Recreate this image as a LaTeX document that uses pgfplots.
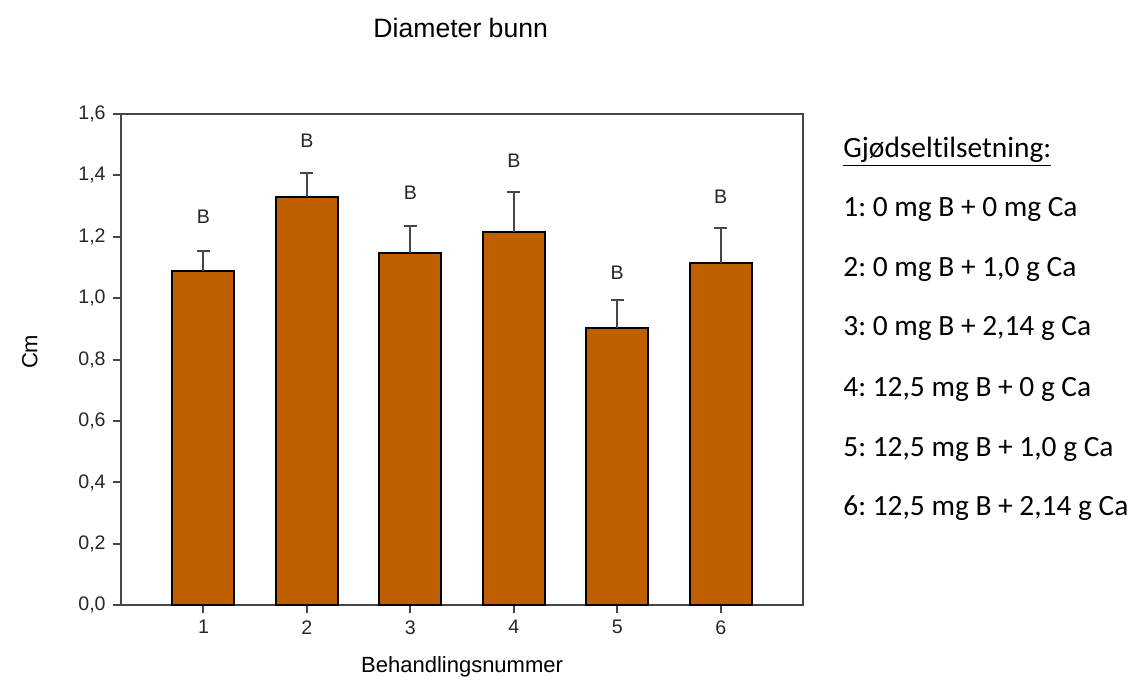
\documentclass[border=0pt]{standalone}
\usepackage{fontspec}
\setmainfont{Liberation Sans}
\newfontfamily\calibri[Ligatures=NoCommon]{Carlito}
\usepackage{pgfplots}
\pgfplotsset{compat=1.18}
\definecolor{barfill}{RGB}{191,95,0}
\definecolor{axisgray}{RGB}{70,70,70}
\frenchspacing
\begin{document}
\begin{tikzpicture}
\useasboundingbox (0,0) rectangle (565.5pt,343.5pt);
\begin{axis}[
  at={(60.35pt,40.85pt)}, anchor=south west,
  scale only axis, width=341.4pt, height=245.65pt,
  xmin=0.2, xmax=6.8, ymin=0, ymax=1.6,
  xtick={1,2,3,4,5,6},
  ytick={0,0.2,0.4,0.6,0.8,1.0,1.2,1.4,1.6},
  tick align=outside, tick pos=left,
  major tick length=4pt,
  axis line style={axisgray, line width=1pt},
  tick style={axisgray, line width=1pt},
  /pgf/number format/assume math mode=true,
  ticklabel style={font=\fontsize{9.8}{11}\selectfont, text=black!85},
  yticklabel style={/pgf/number format/.cd, fixed, fixed zerofill, precision=1, use comma},
  xlabel={Behandlingsnummer},
  ylabel={Cm},
  label style={font=\fontsize{11}{13}\selectfont},
  xlabel style={at={(axis description cs:0.5,-0.126)}, anchor=center},
  ylabel style={at={(axis description cs:-0.133,0.516)}, anchor=center},
  title={Diameter bunn},
  title style={at={(axis description cs:0.498,1.151)}, anchor=center, font=\fontsize{13.3}{15}\selectfont},
  clip=false,
]
\addplot[ybar, bar width=0.6, fill=barfill, draw=black, line width=1pt,
  error bars/.cd, y dir=plus, y explicit,
  error bar style={axisgray, line width=1pt},
  error mark options={rotate=90, mark size=3.25pt, line width=1pt, axisgray}]
  coordinates {
  (1,1.089) +- (0,0.065)
  (2,1.329) +- (0,0.078)
  (3,1.147) +- (0,0.089)
  (4,1.217) +- (0,0.130)
  (5,0.904) +- (0,0.089)
  (6,1.116) +- (0,0.114)
  };
\addplot[draw=none, mark=none, nodes near coords={B},
  every node near coord/.append style={anchor=center, text=black!85, font=\fontsize{9.8}{11}\selectfont}]
  coordinates {
  (1,1.266) (2,1.513) (3,1.344) (4,1.447) (5,1.083) (6,1.331)
  };
\end{axis}
\begin{scope}[every node/.style={anchor=base west, inner sep=0pt, font=\calibri\fontsize{14.7}{16}\selectfont}]
\node at (421.5pt,264.5pt) {\underline{Gjødseltilsetning:}};
\node at (421.5pt,235pt) {1: 0 mg B + 0 mg Ca};
\node at (421.5pt,205pt) {2: 0 mg B + 1,0 g Ca};
\node at (421.5pt,175.5pt) {3: 0 mg B + 2,14 g Ca};
\node at (421.5pt,145.5pt) {4: 12,5 mg B + 0 g Ca};
\node at (421.5pt,115.5pt) {5: 12,5 mg B + 1,0 g Ca};
\node at (421.5pt,86pt) {6: 12,5 mg B + 2,14 g Ca};
\end{scope}
\end{tikzpicture}
\end{document}
